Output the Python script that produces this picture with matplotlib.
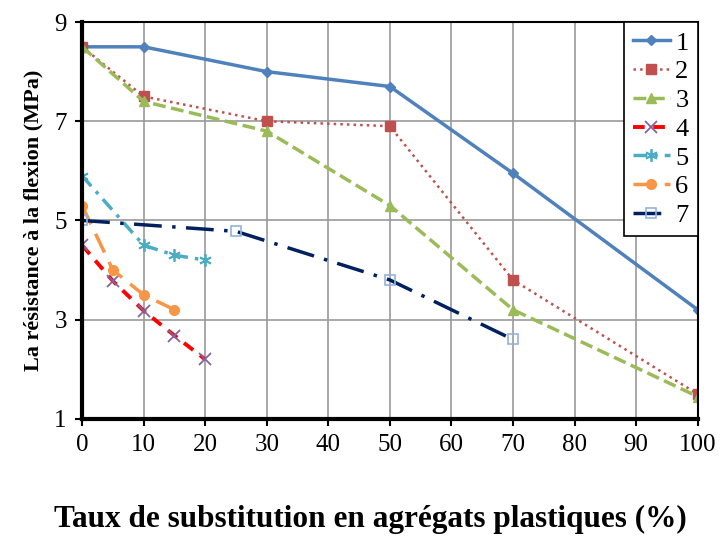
import matplotlib.pyplot as plt

plt.rcParams['font.family'] = ['Liberation Serif', 'DejaVu Serif']

# substitution rate (%) and flexural strength (MPa) per mix
x1 = [0, 10, 30, 50, 70, 100]
y1 = [8.5, 8.5, 8.0, 7.7, 5.95, 3.2]
x2 = [0, 10, 30, 50, 70, 100]
y2 = [8.5, 7.5, 7.0, 6.9, 3.8, 1.5]
x3 = [0, 10, 30, 50, 70, 100]
y3 = [8.5, 7.4, 6.8, 5.3, 3.2, 1.45]
x4 = [0, 5, 10, 15, 20]
y4 = [4.5, 3.78, 3.18, 2.68, 2.2]
x5 = [0, 10, 15, 20]
y5 = [5.9, 4.5, 4.3, 4.2]
x6 = [0, 5, 10, 15]
y6 = [5.3, 4.0, 3.5, 3.2]
x7 = [0, 25, 50, 70]
y7 = [5.0, 4.78, 3.8, 2.6]

fig = plt.figure(figsize=(7.2, 5.37), dpi=100)
ax = fig.add_axes([0.114, 0.22, 0.855, 0.739])

ax.plot(x1, y1, '-', color='#4F81BD', lw=2.5, marker='D', ms=5, label='1')
ax.plot(x2, y2, ':', color='#C0504D', lw=1.8, marker='s', ms=7, label='2')
ax.plot(x3, y3, '--', color='#9BBB59', lw=2.5, marker='^', ms=7, label='3')
ax.plot(x4, y4, color='#FF0000', lw=2.8, dashes=(3, 2.2), marker='x', ms=8,
        mec='#8064A2', mew=1.3, label='4')
ax.plot(x5, y5, color='#4BACC6', lw=2.5, dashes=(4, 2, 1, 2), marker=(6, 2, 0),
        ms=9, mec='#4BACC6', mew=1.3, label='5')
ax.plot(x6, y6, color='#F79646', lw=2.5, dashes=(6, 3), marker='o', ms=7, label='6')
ax.plot(x7, y7, color='#002060', lw=2.5, dashes=(8, 3, 1, 3), marker='s', ms=7,
        mfc='none', mec='#95B3D7', mew=1.2, label='7')

ax.set_xlim(0, 100)
ax.set_ylim(1, 9)
ax.set_xticks(range(0, 101, 10))
ax.set_yticks([1, 3, 5, 7, 9])
ax.grid(True, color='#999999', lw=1.2)
ax.set_axisbelow(True)

for side in ['left', 'bottom']:
    ax.spines[side].set_linewidth(3)
for side in ['top', 'right']:
    ax.spines[side].set_linewidth(1.5)
ax.tick_params(labelsize=18, width=1.5, length=5, pad=6)

fig.text(0.514, 0.032, 'Taux de substitution en agrégats plastiques (%)',
         fontsize=22.5, fontweight='bold', ha='center', va='center')
ax.set_ylabel('La résistance à la flexion (MPa)', fontsize=16,
              fontweight='bold', labelpad=8)

leg = ax.legend(loc='upper right', fontsize=19, fancybox=False, framealpha=1,
                edgecolor='black', handlelength=1.4, handletextpad=0.2,
                labelspacing=0.2, borderpad=0.35, borderaxespad=0.0)
leg.get_frame().set_linewidth(1.2)

fig.savefig('out.png', dpi=100)
